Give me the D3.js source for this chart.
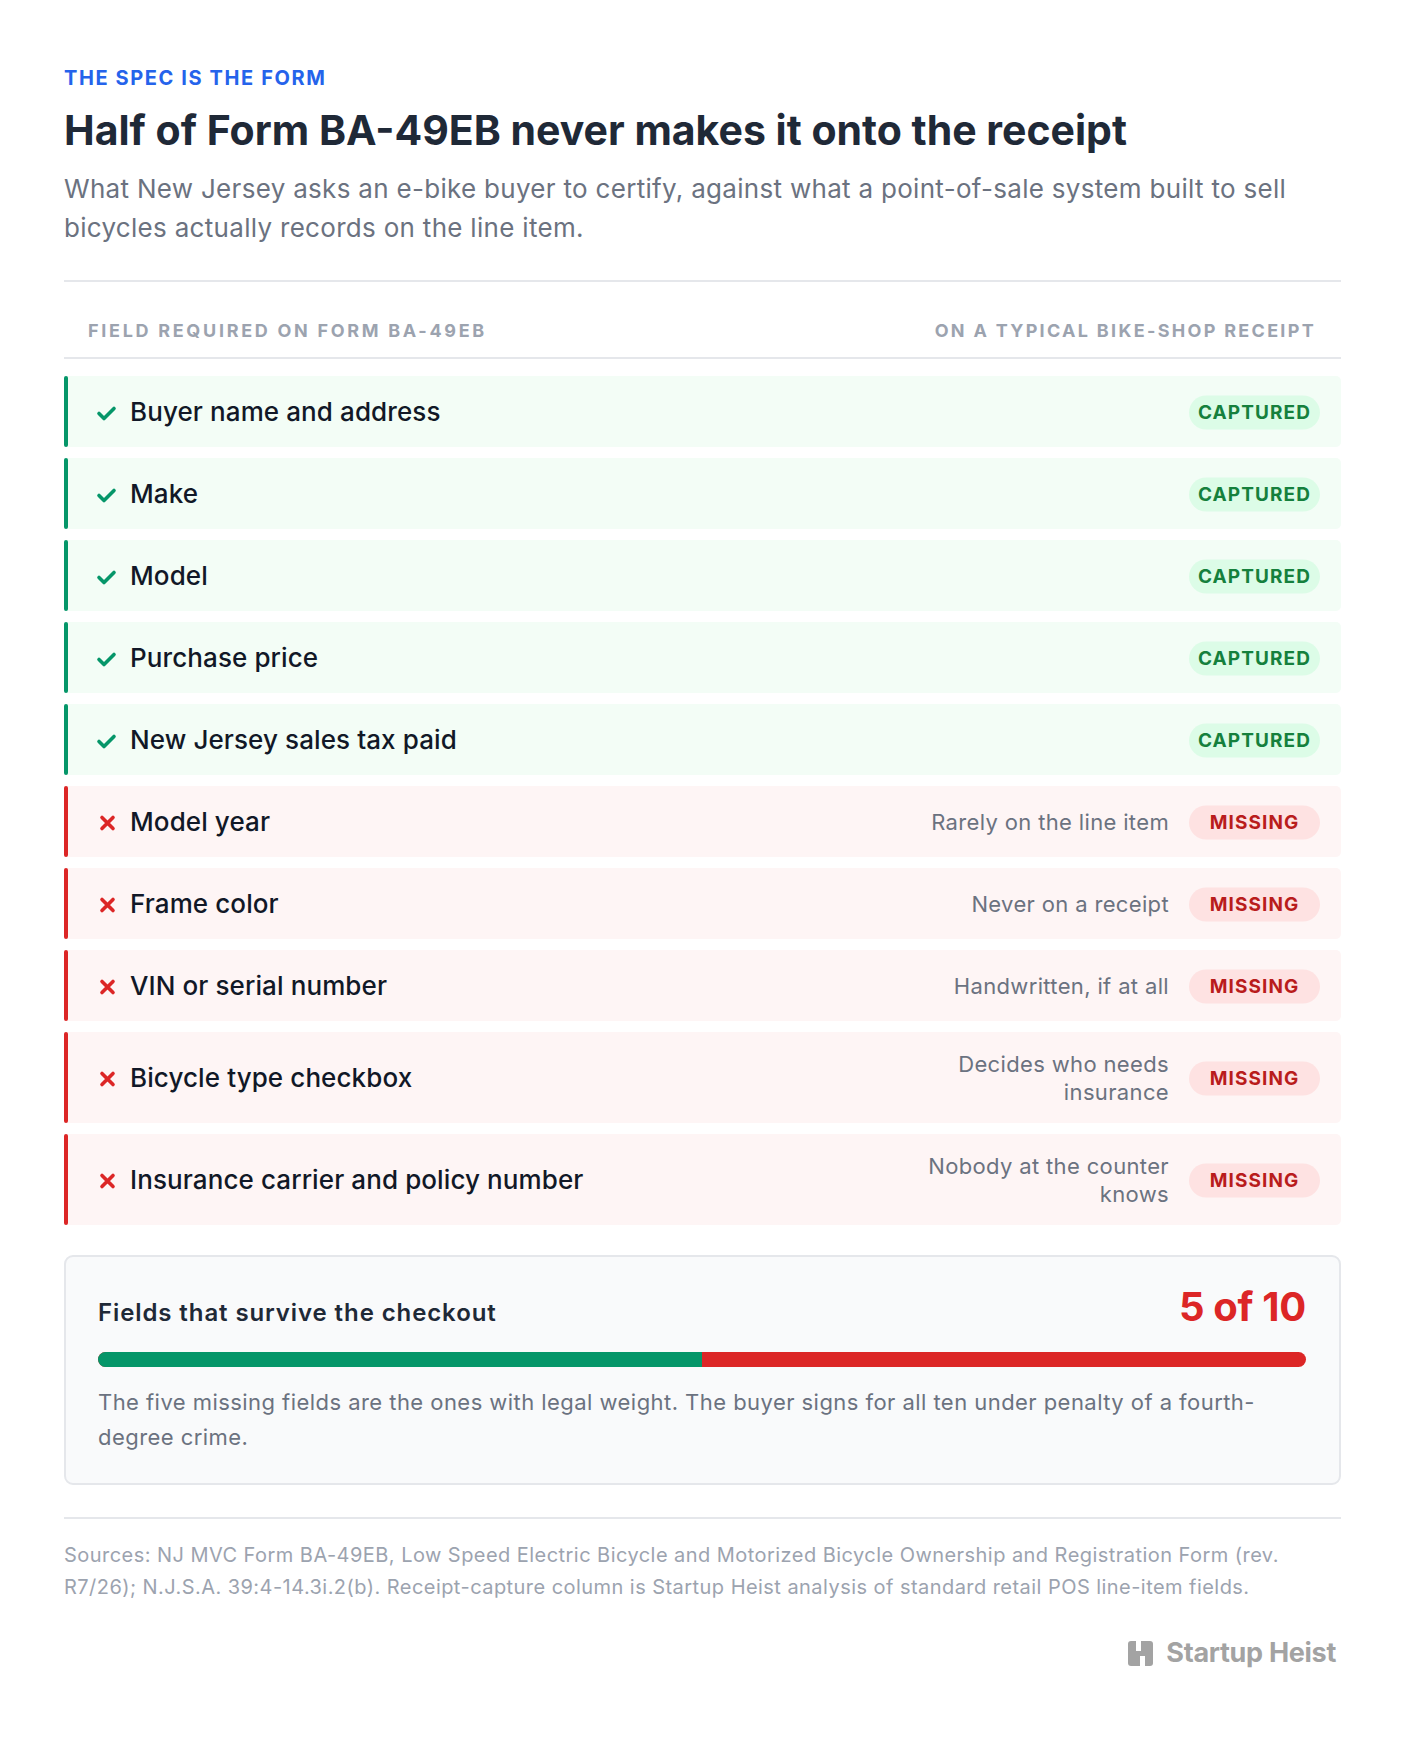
<!DOCTYPE html>
<html><head><meta charset="utf-8">
<script src="https://cdn.jsdelivr.net/npm/d3@7/dist/d3.min.js"></script>
<style>body{margin:0;background:#fff;font-family:Inter,"Noto Sans",sans-serif;}</style>
</head><body><div id="c"></div>
<script>
const fields = ["Buyer name and address","Make","Model","Purchase price","New Jersey sales tax paid","Model year","Frame color","VIN or serial number","Bicycle type checkbox","Insurance carrier and policy number"];
const captured = [true,true,true,true,true,false,false,false,false,false];
const notes = ["","","","","","Rarely on the line item","Never on a receipt","Handwritten, if at all","Decides who needs|insurance","Nobody at the counter|knows"];
const totalFields = 10;
const survived = captured.filter(d=>d).length;

const W=1408,H=1742,L=64,R=1341;
const svg=d3.select("#c").append("svg").attr("width",W).attr("height",H);
const t=(x,y,s,o={})=>{const e=svg.append("text").attr("x",x).attr("y",y).text(s)
 .attr("font-size",o.size||16).attr("font-weight",o.w||400).attr("fill",o.fill||"#111827")
 .attr("text-anchor",o.a||"start").attr("dominant-baseline","middle");
 if(o.ls)e.attr("letter-spacing",o.ls);return e;};

t(L,80,"THE SPEC IS THE FORM",{size:20,w:700,fill:"#2563eb",ls:1.6});
t(L,134,"Half of Form BA-49EB never makes it onto the receipt",{size:41,w:700,fill:"#1f2937",ls:0});
t(L,191,"What New Jersey asks an e-bike buyer to certify, against what a point-of-sale system built to sell",{size:26,fill:"#6b7280",ls:0.3});
t(L,230,"bicycles actually records on the line item.",{size:26,fill:"#6b7280",ls:0.3});
svg.append("line").attr("x1",L).attr("x2",R).attr("y1",281).attr("y2",281).attr("stroke","#e5e7eb").attr("stroke-width",2);
t(L+24,332,"FIELD REQUIRED ON FORM BA-49EB",{size:18,w:700,fill:"#9ca3af",ls:2.7});
t(R-25,332,"ON A TYPICAL BIKE-SHOP RECEIPT",{size:18,w:700,fill:"#9ca3af",ls:2.3,a:"end"});
svg.append("line").attr("x1",L).attr("x2",R).attr("y1",358).attr("y2",358).attr("stroke","#e5e7eb").attr("stroke-width",2);

const hts=notes.map(n=>n.includes("|")?91:71);
let y=376; const tops=[];
hts.forEach(h=>{tops.push(y);y+=h+11;});
fields.forEach((f,i)=>{
  const ok=captured[i],top=tops[i],h=hts[i],cy=top+h/2;
  const g=svg.append("g");
  g.append("rect").attr("x",L).attr("y",top).attr("width",R-L).attr("height",h).attr("rx",5)
    .attr("fill",ok?"#f0fdf4":"#fef2f2").attr("opacity",0.8);
  g.append("rect").attr("x",L).attr("y",top).attr("width",4).attr("height",h).attr("rx",2)
    .attr("fill",ok?"#059669":"#dc2626");
  const ix=L+43;
  if(ok) g.append("path").attr("d",`M${ix-8},${cy+2}l5,5l10,-10`).attr("fill","none").attr("stroke","#059669").attr("stroke-width",3.6).attr("stroke-linecap","round").attr("stroke-linejoin","round");
  else g.append("path").attr("d",`M${ix-5},${cy-4}l11,11M${ix+6},${cy-4}l-11,11`).attr("fill","none").attr("stroke","#dc2626").attr("stroke-width",3.6).attr("stroke-linecap","round");
  t(L+66,cy+2,f,{size:26,w:500,fill:"#111827",ls:0.1});
  const bw=131,bx=R-25-bw+4;
  g.append("rect").attr("x",bx).attr("y",cy-16).attr("width",bw).attr("height",34).attr("rx",17)
    .attr("fill",ok?"#dcfce7":"#fee2e2");
  t(bx+bw/2,cy+2,ok?"CAPTURED":"MISSING",{size:19,w:700,fill:ok?"#15803d":"#b91c1c",a:"middle",ls:1.1});
  if(notes[i]){
    const parts=notes[i].split("|");
    parts.forEach((p,k)=>t(bx-20,cy+2+(k-(parts.length-1)/2)*28,p,{size:22,fill:"#6b7280",a:"end",ls:0.35}));
  }
});

const by=1256,bh=228;
svg.append("rect").attr("x",L+1).attr("y",by).attr("width",R-L-2).attr("height",bh).attr("rx",8)
  .attr("fill","#f9fafb").attr("stroke","#e5e7eb").attr("stroke-width",2);
t(98,1314,"Fields that survive the checkout",{size:24,w:600,fill:"#1f2937",ls:0.9});
t(1306,1310,`${survived} of ${totalFields}`,{size:40,w:700,fill:"#dc2626",a:"end",ls:-0.3});
const x=d3.scaleLinear().domain([0,totalFields]).range([98,1306]);
svg.append("rect").attr("x",x(0)).attr("y",1352).attr("width",x(totalFields)-x(0)).attr("height",15).attr("rx",7.5).attr("fill","#dc2626");
svg.append("path").attr("d",`M${x(survived)},1352H${x(0)+7.5}a7.5,7.5 0 0 0 0,15H${x(survived)}Z`).attr("fill","#059669");
t(98,1404,"The five missing fields are the ones with legal weight. The buyer signs for all ten under penalty of a fourth-",{size:22,fill:"#6b7280",ls:0.45});
t(98,1439,"degree crime.",{size:22,fill:"#6b7280",ls:0.45});

svg.append("line").attr("x1",L).attr("x2",R).attr("y1",1518).attr("y2",1518).attr("stroke","#e5e7eb").attr("stroke-width",2);
t(L,1557,"Sources: NJ MVC Form BA-49EB, Low Speed Electric Bicycle and Motorized Bicycle Ownership and Registration Form (rev.",{size:20,fill:"#9ca3af",ls:0.45});
t(L,1589,"R7/26); N.J.S.A. 39:4-14.3i.2(b). Receipt-capture column is Startup Heist analysis of standard retail POS line-item fields.",{size:20,fill:"#9ca3af",ls:0.45});
const lx=1128,ly=1641;
svg.append("rect").attr("x",lx).attr("y",ly).attr("width",25).attr("height",25).attr("rx",3).attr("fill","#a3a3a3");
svg.append("rect").attr("x",lx+8).attr("y",ly).attr("width",5).attr("height",10).attr("fill","#fff");
svg.append("rect").attr("x",lx+12).attr("y",ly+15).attr("width",5).attr("height",10).attr("fill","#fff");
t(1336,1655,"Startup Heist",{size:27,w:700,fill:"#a3a3a3",a:"end",ls:-0.3});
</script></body></html>
